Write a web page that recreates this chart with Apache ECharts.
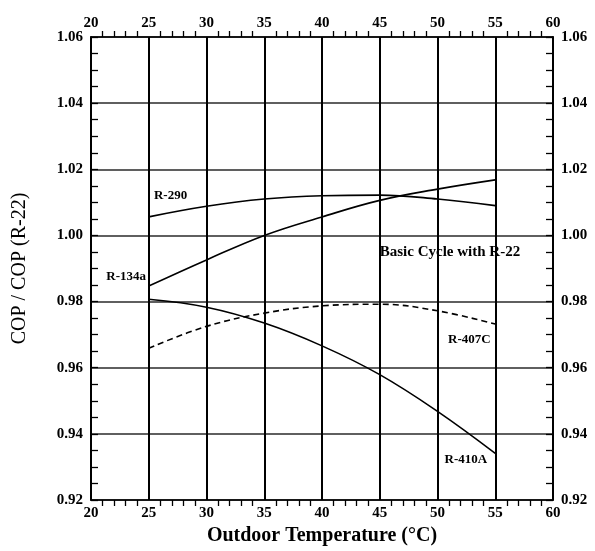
<!DOCTYPE html>
<html style="height: 100%">
<head>
<meta charset="utf-8">
<script src="https://cdn.jsdelivr.net/npm/echarts@6/dist/echarts.min.js"></script>
</head>
<body style="margin: 0; background: #fff">
<div id="container" style="width: 595px; height: 551px;"></div>
<script type="text/javascript">
// temperatures (deg C) and COP ratio
var temps = [25, 30, 35, 40, 45, 50, 55];
var r290  = [1.0056, 1.0088, 1.0110, 1.0120, 1.0122, 1.0110, 1.0090];
var r134a = [0.9847, 0.9926, 1.0000, 1.0056, 1.0106, 1.0140, 1.0168];
var r407c = [0.9659, 0.9725, 0.9765, 0.9787, 0.9792, 0.9772, 0.9732];
var r410a = [0.9807, 0.9783, 0.9735, 0.9666, 0.9579, 0.9468, 0.9341];

// curve labels written inside the plot
var labelNames = ['R-290', 'R-134a', 'Basic Cycle with R-22', 'R-407C', 'R-410A'];
var labelX = [25.45, 24.76, 45.0, 54.6, 54.3];
var labelY = [1.0121, 0.9874, 0.9950, 0.9684, 0.9322];
var labelAlign = ['left', 'right', 'left', 'right', 'right'];

var font = '"Liberation Serif", "Times New Roman", serif';

function pairs(ys) {
    var out = [];
    for (var i = 0; i < temps.length; i++) out.push([temps[i], ys[i]]);
    return out;
}

var labelData = [];
for (var i = 0; i < labelNames.length; i++) {
    labelData.push({
        value: [labelX[i], labelY[i]],
        name: labelNames[i],
        label: { align: labelAlign[i], fontSize: i === 2 ? 15 : 13 }
    });
}

var xCommon = {
    type: 'value', min: 20, max: 60, interval: 5,
    axisLine: { lineStyle: { color: '#000', width: 1.5 } },
    axisTick: { show: false },
    minorTick: { show: true, splitNumber: 5, length: 6, lineStyle: { color: '#000', width: 1.3 } },
    axisLabel: { color: '#000', fontFamily: font, fontWeight: 'bold', fontSize: 15, margin: 6 }
};
var yCommon = {
    type: 'value', min: 0.92, max: 1.06, interval: 0.02,
    axisLine: { show: true, lineStyle: { color: '#000', width: 2 } },
    axisTick: { show: true, inside: true, length: 7, lineStyle: { color: '#000', width: 1.3 } },
    minorTick: { show: true, splitNumber: 4, length: 7, lineStyle: { color: '#000', width: 1.3 } },
    axisLabel: {
        color: '#000', fontFamily: font, fontWeight: 'bold', fontSize: 15, margin: 8,
        formatter: function (v) { return v.toFixed(2); }
    }
};

var dom = document.getElementById('container');
var myChart = echarts.init(dom);

var option = {
    animation: false,
    backgroundColor: '#fff',
    grid: { left: 91, right: 42, top: 37, bottom: 51 },
    xAxis: [
        echarts.util.merge({
            position: 'bottom',
            name: 'Outdoor Temperature (°C)',
            nameLocation: 'middle',
            nameGap: 24,
            nameTextStyle: { color: '#000', fontFamily: font, fontWeight: 'bold', fontSize: 20 },
            splitLine: { show: true, lineStyle: { color: '#000', width: 2 } }
        }, xCommon, false),
        echarts.util.merge({
            position: 'top',
            splitLine: { show: false }
        }, xCommon, false)
    ],
    yAxis: [
        echarts.util.merge({
            position: 'left',
            name: 'COP / COP (R-22)',
            nameLocation: 'middle',
            nameGap: 61,
            nameTextStyle: { color: '#000', fontFamily: font, fontSize: 20 },
            splitLine: { show: true, lineStyle: { color: '#2a2a2a', width: 1.5 } }
        }, yCommon, false),
        echarts.util.merge({
            position: 'right',
            splitLine: { show: false }
        }, yCommon, false)
    ],
    series: [
        {
            name: 'R-290', type: 'line', data: pairs(r290), smooth: 0.4,
            symbol: 'none', lineStyle: { color: '#000', width: 1.6 }
        },
        {
            name: 'R-134a', type: 'line', data: pairs(r134a), smooth: 0.4,
            symbol: 'none', lineStyle: { color: '#000', width: 1.6 }
        },
        {
            name: 'R-407C', type: 'line', data: pairs(r407c), smooth: 0.4,
            symbol: 'none', lineStyle: { color: '#000', width: 1.6, type: [6, 4] }
        },
        {
            name: 'R-410A', type: 'line', data: pairs(r410a), smooth: 0.4,
            symbol: 'none', lineStyle: { color: '#000', width: 1.6 }
        },
        {
            name: 'labels', type: 'scatter', data: labelData,
            symbolSize: 0, itemStyle: { color: '#000', opacity: 1 },
            label: {
                show: true, position: 'inside', verticalAlign: 'middle',
                color: '#000', fontFamily: font, fontWeight: 'bold',
                textBorderWidth: 0,
                formatter: function (p) { return p.name; }
            }
        }
    ]
};

myChart.setOption(option);
</script>
</body>
</html>
